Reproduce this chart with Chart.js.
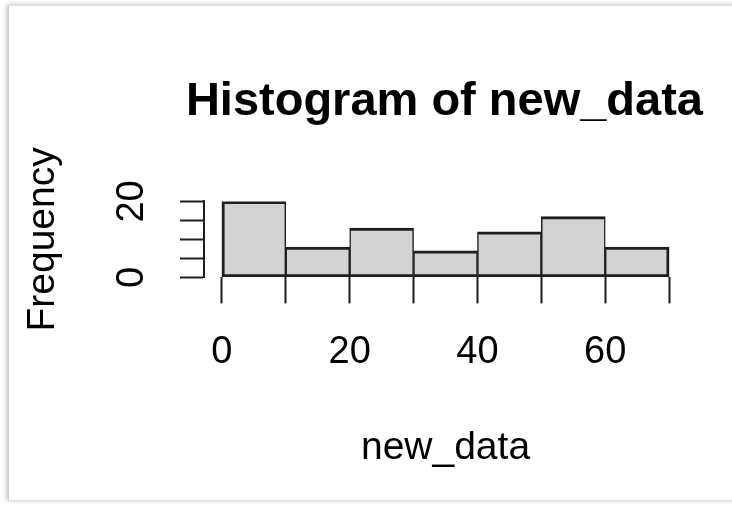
<!DOCTYPE html>
<html>
<head>
<meta charset="utf-8">
<title>Histogram of new_data</title>
<script src="https://cdn.jsdelivr.net/npm/chart.js@4.4.0/dist/chart.umd.min.js"></script>
<style>
  html, body { margin: 0; padding: 0; background: #fff; }
  #frame {
    position: absolute; left: 8px; top: 5px; width: 760px; height: 494px;
    background: #fff; border-left: 1px solid #cfcfcf; border-top: 1px solid #e2e2e2; border-bottom: 1px solid #e2e2e2;
    box-shadow: -2px 0 4px rgba(0,0,0,0.18), 0 -2px 4px rgba(0,0,0,0.08);
  }
  #wrap { position: absolute; left: 0; top: 0; width: 732px; height: 506px; }
</style>
</head>
<body>
<div id="frame"></div>
<div id="wrap"><canvas id="hist"></canvas></div>
<script>
// bins of new_data (width 10) and their counts
var binStarts = [0, 10, 20, 30, 40, 50, 60];
var counts = [20, 8, 13, 7, 12, 16, 8];
var xTickValues = [0, 10, 20, 30, 40, 50, 60, 70];
var yTickValues = [0, 5, 10, 15, 20];
var binWidth = 10;
var xTitle = 'new_data';

var font = "'Liberation Sans', Arial, Helvetica, sans-serif";

var points = binStarts.map(function (b, i) {
  return { x: b + binWidth / 2, y: counts[i] };
});

// R centres the axis label on the plot region (-2.8 .. 72.8), not on the canvas
var xTitlePlugin = {
  id: 'xTitle',
  afterDraw: function (chart) {
    var c = chart.ctx;
    var sx = chart.scales.x;
    c.save();
    c.font = '39px ' + font;
    c.fillStyle = '#000';
    c.textAlign = 'center';
    c.textBaseline = 'alphabetic';
    c.fillText(xTitle, sx.getPixelForValue(35), sx.top + 182);
    c.restore();
  }
};

const ctx = document.getElementById('hist');

new Chart(ctx, {
  type: 'bar',
  data: {
    datasets: [{
      label: 'new_data',
      data: points,
      backgroundColor: '#d3d3d3',
      borderColor: '#1e1e1e',
      borderWidth: function (c) {
        var last = counts.length - 1;
        return {
          top: 3,
          bottom: 3,
          left: c.dataIndex === 0 ? 3 : 1.5,
          right: c.dataIndex === last ? 3 : 1.5
        };
      },
      borderSkipped: false,
      barPercentage: 1,
      categoryPercentage: 1
    }]
  },
  plugins: [xTitlePlugin],
  options: {
    responsive: true,
    maintainAspectRatio: false,
    animation: false,
    layout: { padding: { left: 20, right: 29, top: 0, bottom: 105 } },
    plugins: {
      legend: { display: false },
      tooltip: { enabled: false },
      title: {
        display: true,
        text: 'Histogram of new_data',
        align: 'end',
        color: '#000',
        font: { family: font, size: 47, weight: 'bold', lineHeight: 1.2 },
        padding: { top: 74, bottom: 71 }
      }
    },
    scales: {
      x: {
        type: 'linear',
        min: -2.8,
        max: 75.3,
        offset: false,
        afterBuildTicks: function (scale) {
          scale.ticks = xTickValues.map(function (v) { return { value: v }; });
        },
        border: { display: false },
        grid: {
          offset: false,
          drawOnChartArea: false,
          drawTicks: true,
          tickLength: 26,
          tickWidth: 2,
          tickColor: '#1e1e1e'
        },
        ticks: {
          color: '#000',
          padding: 26,
          maxRotation: 0,
          autoSkip: false,
          font: { family: font, size: 38 },
          callback: function (v) { return v % 20 === 0 ? String(v) : ''; }
        },
        title: { display: false }
      },
      y: {
        min: 0,
        max: 20,
        afterBuildTicks: function (scale) {
          scale.ticks = yTickValues.map(function (v) { return { value: v }; });
        },
        afterFit: function (scale) { scale.width = 184; },
        border: { display: true, color: '#1e1e1e', width: 2 },
        grid: {
          drawOnChartArea: false,
          drawTicks: true,
          tickLength: 24,
          tickWidth: 2,
          tickColor: '#1e1e1e'
        },
        ticks: {
          color: '#000',
          padding: 26,
          minRotation: 90,
          maxRotation: 90,
          autoSkip: false,
          crossAlign: 'center',
          font: { family: font, size: 38 },
          callback: function (v) { return v % 20 === 0 ? String(v) : ''; }
        },
        title: {
          display: true,
          text: 'Frequency',
          color: '#000',
          font: { family: font, size: 39 },
          padding: 0
        }
      }
    }
  }
});
</script>
</body>
</html>
